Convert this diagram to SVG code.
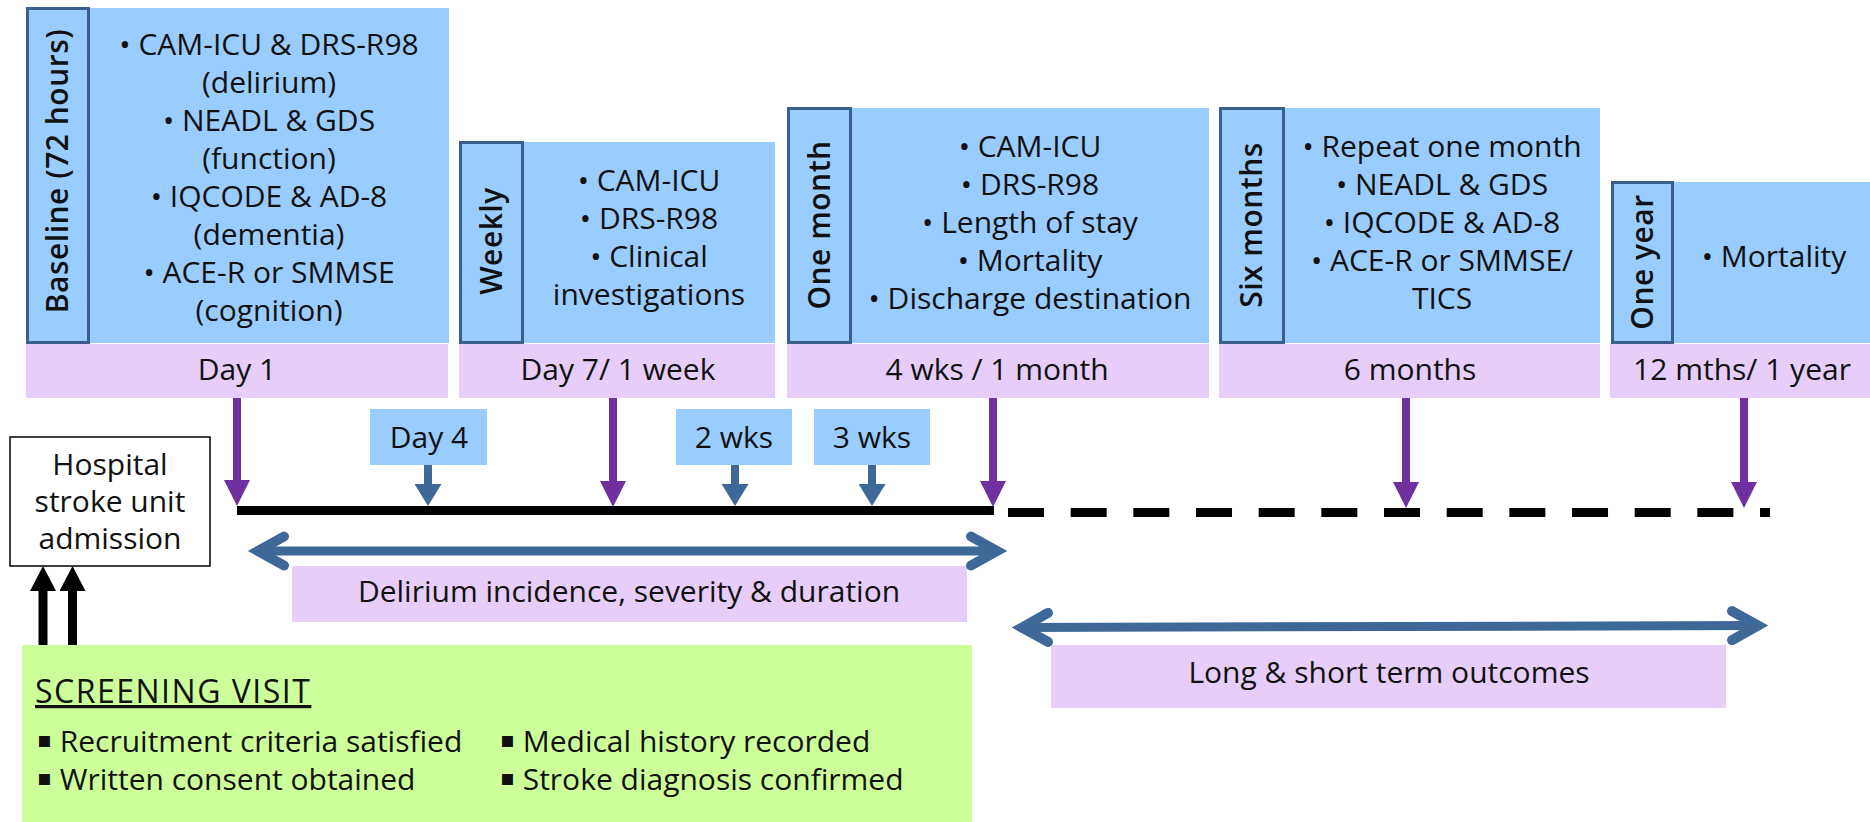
<svg xmlns="http://www.w3.org/2000/svg" width="1870" height="822" viewBox="0 0 1870 822">
  <style>
    .panel { fill: #99CCFF; }
    .head { fill: #99CCFF; stroke: #3B5F8C; stroke-width: 3; }
    .band { fill: #E6CDFA; }
    .tag { fill: #99CCFF; }
    .screen { fill: #CCFF99; }
    .admit { fill: #FFFFFF; stroke: #000000; stroke-width: 1.5; }
    text { font-family: "Comic Sans MS", "Open Sans", sans-serif; font-size: 30px; fill: #111111; }
    .c { text-anchor: middle; }
    .hd { font-weight: 600; text-anchor: middle; letter-spacing: 0.5px; }
    .ul { text-decoration: underline; font-size: 32px; letter-spacing: 1.5px; }
    .sq { font-family: "DejaVu Sans", sans-serif; font-size: 22px; }
    .visit { stroke: #7030A0; stroke-width: 8; fill: none; }
    .tick { stroke: #3E6898; stroke-width: 8; fill: none; }
    .entry { stroke: #000000; stroke-width: 9; fill: none; }
    .axis { stroke: #000000; stroke-width: 9; fill: none; }
    .axis-dash { stroke: #000000; stroke-width: 9; fill: none; stroke-dasharray: 36 26.67; }
    .span { stroke: #3E6898; stroke-width: 9; fill: none; }
  </style>
  <defs>
    <marker id="headPurple" markerUnits="userSpaceOnUse" viewBox="0 0 26 26" markerWidth="26" markerHeight="26" refX="0" refY="13" orient="auto">
      <path d="M0,0 L26,13 L0,26 Z" fill="#7030A0"/>
    </marker>
    <marker id="headBlue" markerUnits="userSpaceOnUse" viewBox="0 0 22 27" markerWidth="22" markerHeight="27" refX="0" refY="13.5" orient="auto">
      <path d="M0,0 L22,13.5 L0,27 Z" fill="#3E6898"/>
    </marker>
    <marker id="headBlack" markerUnits="userSpaceOnUse" viewBox="0 0 25 26" markerWidth="25" markerHeight="26" refX="0" refY="13" orient="auto">
      <path d="M0,0 L25,13 L0,26 Z" fill="#000000"/>
    </marker>
    <marker id="chevron" markerUnits="userSpaceOnUse" viewBox="-34 -22 48 44" markerWidth="48" markerHeight="44" refX="0" refY="0" orient="auto-start-reverse" overflow="visible">
      <path d="M-26,-14.5 L0,0 L-26,14.5" fill="none" stroke="#3E6898" stroke-width="10" stroke-linecap="round" stroke-linejoin="miter"/>
    </marker>
  </defs>

  <rect width="1870" height="822" fill="#FFFFFF"/>

  <!-- Baseline assessment -->
  <g id="baseline">
    <rect class="panel" x="89" y="8" width="360" height="335"/>
    <rect class="head" x="27.5" y="8.5" width="61" height="334"/>
    <text class="hd" transform="translate(68,171) rotate(-90)">Baseline (72 hours)</text>
    <text class="c" x="269" y="55">• CAM-ICU &amp; DRS-R98<tspan x="269" dy="38">(delirium)</tspan><tspan x="269" dy="38">• NEADL &amp; GDS</tspan><tspan x="269" dy="38">(function)</tspan><tspan x="269" dy="38">• IQCODE &amp; AD-8</tspan><tspan x="269" dy="38">(dementia)</tspan><tspan x="269" dy="38">• ACE-R or SMMSE</tspan><tspan x="269" dy="38">(cognition)</tspan></text>
    <rect class="band" x="26" y="344" width="422" height="54"/>
    <text class="c" x="237" y="380">Day 1</text>
  </g>

  <!-- Weekly assessment -->
  <g id="weekly">
    <rect class="panel" x="523" y="142" width="252" height="201"/>
    <rect class="head" x="460.5" y="142.5" width="62" height="200"/>
    <text class="hd" transform="translate(502,241) rotate(-90)">Weekly</text>
    <text class="c" x="649" y="191">• CAM-ICU<tspan x="649" dy="38">• DRS-R98</tspan><tspan x="649" dy="38">• Clinical</tspan><tspan x="649" dy="38">investigations</tspan></text>
    <rect class="band" x="459" y="344" width="316" height="54"/>
    <text class="c" x="618" y="380">Day 7/ 1 week</text>
  </g>

  <!-- One month assessment -->
  <g id="one-month">
    <rect class="panel" x="851" y="108" width="358" height="235"/>
    <rect class="head" x="788.5" y="108.5" width="62" height="234"/>
    <text class="hd" transform="translate(830,225) rotate(-90)">One month</text>
    <text class="c" x="1030" y="157">• CAM-ICU<tspan x="1030" dy="38">• DRS-R98</tspan><tspan x="1030" dy="38">• Length of stay</tspan><tspan x="1030" dy="38">• Mortality</tspan><tspan x="1030" dy="38">• Discharge destination</tspan></text>
    <rect class="band" x="787" y="344" width="422" height="54"/>
    <text class="c" x="997" y="380">4 wks / 1 month</text>
  </g>

  <!-- Six month assessment -->
  <g id="six-months">
    <rect class="panel" x="1284" y="108" width="316" height="235"/>
    <rect class="head" x="1220.5" y="108.5" width="63" height="234"/>
    <text class="hd" transform="translate(1262,225) rotate(-90)">Six months</text>
    <text class="c" x="1442" y="157">• Repeat one month<tspan x="1442" dy="38">• NEADL &amp; GDS</tspan><tspan x="1442" dy="38">• IQCODE &amp; AD-8</tspan><tspan x="1442" dy="38">• ACE-R or SMMSE/</tspan><tspan x="1442" dy="38">TICS</tspan></text>
    <rect class="band" x="1219" y="344" width="381" height="54"/>
    <text class="c" x="1410" y="380">6 months</text>
  </g>

  <!-- One year assessment -->
  <g id="one-year">
    <rect class="panel" x="1673" y="182" width="197" height="161"/>
    <rect class="head" x="1612.5" y="182.5" width="60" height="160"/>
    <text class="hd" transform="translate(1653,262) rotate(-90)">One year</text>
    <text class="c" x="1774" y="267">• Mortality</text>
    <rect class="band" x="1610" y="344" width="260" height="54"/>
    <text class="c" x="1742" y="380">12 mths/ 1 year</text>
  </g>

  <!-- Intermediate delirium checks -->
  <g id="day-4">
    <rect class="tag" x="370" y="409" width="117" height="56"/>
    <text class="c" x="429" y="448">Day 4</text>
  </g>
  <g id="week-2">
    <rect class="tag" x="676" y="409" width="116" height="56"/>
    <text class="c" x="734" y="448">2 wks</text>
  </g>
  <g id="week-3">
    <rect class="tag" x="814" y="409" width="116" height="56"/>
    <text class="c" x="872" y="448">3 wks</text>
  </g>

  <!-- Admission -->
  <g id="admission">
    <rect class="admit" x="10" y="437" width="200" height="129"/>
    <text class="c" x="110" y="475">Hospital<tspan x="110" dy="37">stroke unit</tspan><tspan x="110" dy="37">admission</tspan></text>
  </g>

  <!-- Outcome spans -->
  <g id="delirium-outcomes">
    <rect class="band" x="292" y="566" width="675" height="56"/>
    <text class="c" x="629" y="602">Delirium incidence, severity &amp; duration</text>
  </g>
  <g id="long-outcomes">
    <rect class="band" x="1051" y="645" width="675" height="63"/>
    <text class="c" x="1389" y="683">Long &amp; short term outcomes</text>
  </g>

  <!-- Screening visit -->
  <g id="screening">
    <rect class="screen" x="22" y="645" width="950" height="177"/>
    <text class="ul" x="35" y="703">SCREENING VISIT</text>
    <text x="37" y="752"><tspan class="sq" baseline-shift="5">▪</tspan> Recruitment criteria satisfied</text>
    <text x="37" y="790"><tspan class="sq" baseline-shift="5">▪</tspan> Written consent obtained</text>
    <text x="500" y="752"><tspan class="sq" baseline-shift="5">▪</tspan> Medical history recorded</text>
    <text x="500" y="790"><tspan class="sq" baseline-shift="5">▪</tspan> Stroke diagnosis confirmed</text>
  </g>

  <!-- Connectors -->
  <g id="connectors">
    <!-- study timeline -->
    <line class="axis" x1="237" y1="510.5" x2="994" y2="510.5"/>
    <line class="axis-dash" x1="1008" y1="512.5" x2="1770" y2="512.5"/>
    <!-- scheduled visits -->
    <line class="visit" x1="237" y1="398" x2="237" y2="480" marker-end="url(#headPurple)"/>
    <line class="visit" x1="613" y1="398" x2="613" y2="481" marker-end="url(#headPurple)"/>
    <line class="visit" x1="993" y1="398" x2="993" y2="481" marker-end="url(#headPurple)"/>
    <line class="visit" x1="1406" y1="398" x2="1406" y2="482" marker-end="url(#headPurple)"/>
    <line class="visit" x1="1744" y1="398" x2="1744" y2="482" marker-end="url(#headPurple)"/>
    <!-- interim checks -->
    <line class="tick" x1="428" y1="465" x2="428" y2="484" marker-end="url(#headBlue)"/>
    <line class="tick" x1="735" y1="465" x2="735" y2="484" marker-end="url(#headBlue)"/>
    <line class="tick" x1="872" y1="465" x2="872" y2="484" marker-end="url(#headBlue)"/>
    <!-- screening to admission -->
    <line class="entry" x1="43" y1="645" x2="43" y2="591" marker-end="url(#headBlack)"/>
    <line class="entry" x1="72.5" y1="645" x2="72.5" y2="591" marker-end="url(#headBlack)"/>
    <!-- outcome ranges -->
    <line class="span" x1="258" y1="551" x2="997" y2="551" marker-start="url(#chevron)" marker-end="url(#chevron)"/>
    <line class="span" x1="1022" y1="627.5" x2="1758" y2="625.5" marker-start="url(#chevron)" marker-end="url(#chevron)"/>
  </g>
</svg>
